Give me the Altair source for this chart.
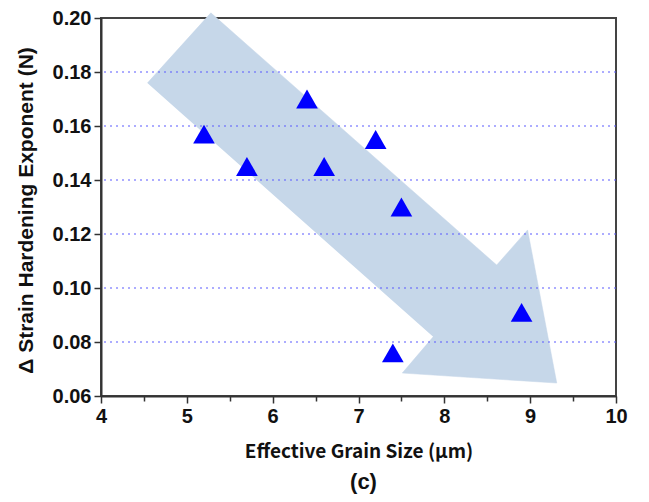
import altair as alt
import pandas as pd

# data points
grain = [5.2, 5.7, 6.4, 6.6, 7.2, 7.5, 7.4, 8.9]
dn = [0.157, 0.145, 0.170, 0.145, 0.155, 0.130, 0.076, 0.091]

# background arrow outline (data coords)
arrow_x = [4.54, 5.28, 8.61, 8.97, 9.31, 7.51, 7.87]
arrow_y = [0.1759, 0.2019, 0.1085, 0.1215, 0.0648, 0.0685, 0.0819]

grid_vals = [0.08, 0.10, 0.12, 0.14, 0.16, 0.18]
x_ticks = [4, 4.5, 5, 5.5, 6, 6.5, 7, 7.5, 8, 8.5, 9, 9.5, 10]
y_ticks = [0.06, 0.07, 0.08, 0.09, 0.10, 0.11, 0.12, 0.13, 0.14, 0.15, 0.16, 0.17, 0.18, 0.19, 0.20]

pts = pd.DataFrame({"x": grain, "y": dn})
arr = pd.DataFrame({"x": arrow_x, "y": arrow_y, "o": list(range(len(arrow_x)))})
grd = pd.DataFrame({"y": grid_vals})

label_font = "Liberation Sans"

xscale = alt.Scale(domain=[4, 10], nice=False, zero=False)
yscale = alt.Scale(domain=[0.06, 0.20], nice=False, zero=False)

xaxis = alt.Axis(
    values=x_ticks,
    labelExpr="datum.value % 1 == 0 ? format(datum.value, 'd') : ''",
    tickSize={"condition": {"test": "datum.value % 1 == 0", "value": 7}, "value": 5},
    title="Effective  Grain Size (μm)",
    titleFont="Noto Sans CJK KR", titleFontSize=19, titleFontWeight="bold",
    titleColor="#111", titlePadding=16,
    labelFont=label_font, labelFontSize=20, labelFontWeight="bold", labelColor="#111",
    labelPadding=3, grid=False, domainColor="#333", domainWidth=2,
    tickColor="#333", tickWidth=1.5, labelFlush=False, labelOverlap=False,
)
yaxis = alt.Axis(
    values=y_ticks,
    labelExpr="round(datum.value*100) % 2 == 0 ? format(datum.value, '.2f') : ''",
    tickSize={"condition": {"test": "round(datum.value*100) % 2 == 0", "value": 7}, "value": 5},
    title="Δ Strain Hardening Exponent (N)",
    titleFont=label_font, titleFontSize=21, titleFontWeight="bold",
    titleColor="#111", titleX=-75, titleY=192, titleBaseline="middle",
    titleAlign="center", titleAngle=270,
    labelFont=label_font, labelFontSize=20, labelFontWeight="bold", labelColor="#111",
    labelPadding=3, grid=False, domainColor="#333", domainWidth=2,
    tickColor="#333", tickWidth=1.5, labelFlush=False, labelOverlap=False,
)

arrow = alt.Chart(arr).mark_line(
    fill="#c6d7e9", stroke="#c6d7e9", strokeWidth=0.5, clip=False
).encode(
    x=alt.X("x:Q", scale=xscale, axis=xaxis),
    y=alt.Y("y:Q", scale=yscale, axis=yaxis),
    order="o:Q",
)

grid = alt.Chart(grd).mark_rule(
    color="#5a5aff", strokeDash=[2, 4], strokeWidth=1.2
).encode(y=alt.Y("y:Q", scale=yscale))

points = alt.Chart(pts).mark_point(
    shape="triangle-up", filled=True, color="#0000ff", size=470, opacity=1
).encode(
    x=alt.X("x:Q", scale=xscale),
    y=alt.Y("y:Q", scale=yscale),
)

chart = alt.layer(arrow, grid, points).properties(
    width=515, height=378,
    autosize="none",
    padding={"left": 93, "top": 10, "right": 25, "bottom": 104},
    title=alt.Title("(c)", orient="bottom", fontSize=22, fontWeight="bold",
                    font=label_font, color="#111", offset=11, dx=5),
).configure_view(stroke="#444", strokeWidth=2)

chart.save("out.html", embed_options={"renderer": "svg", "actions": False})
